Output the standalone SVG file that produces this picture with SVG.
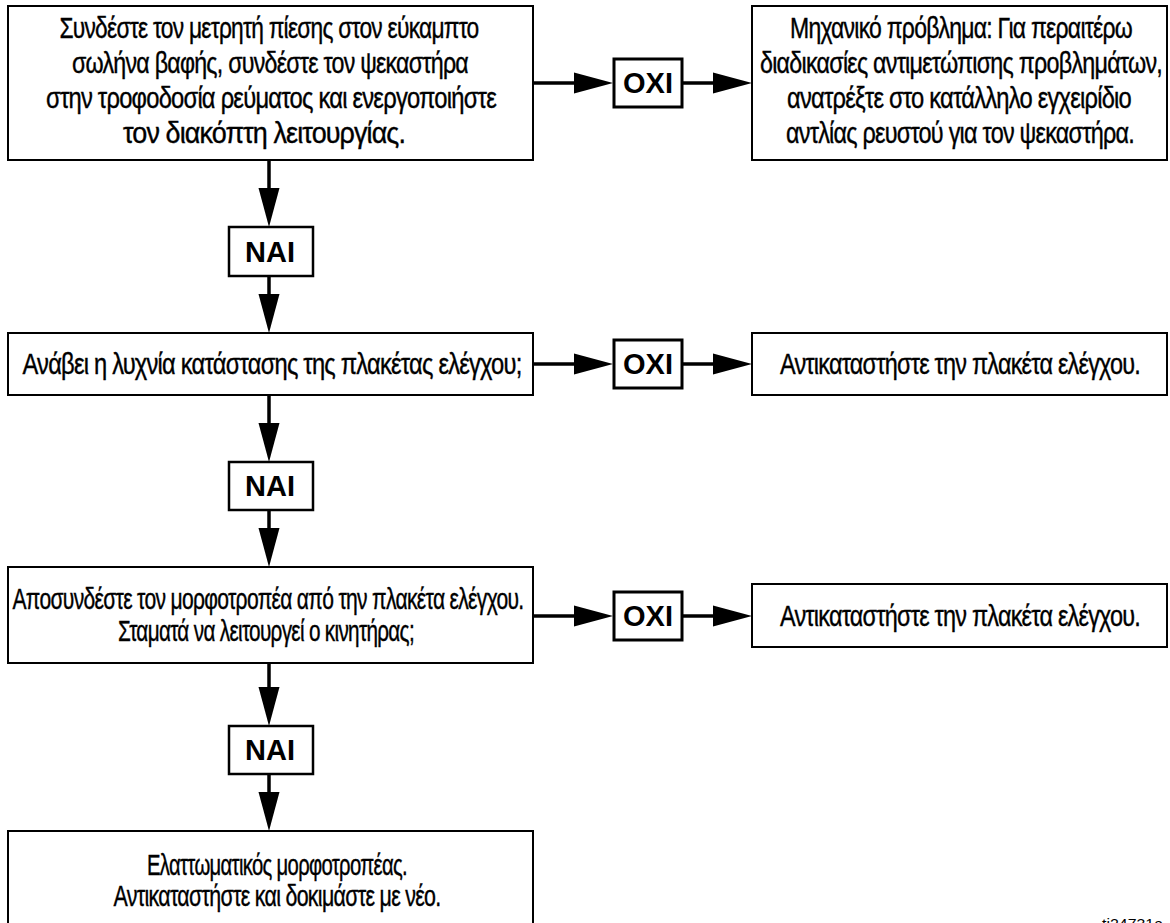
<svg xmlns="http://www.w3.org/2000/svg" width="1170" height="923" viewBox="0 0 1170 923">
<style>
  .box { fill: #fff; stroke: #000; stroke-width: 2; }
  .nai { fill: #fff; stroke: #000; stroke-width: 2.5; }
  .oxi { fill: #fff; stroke: #000; stroke-width: 3; }
  .t { font-family: "Liberation Sans Narrow", "Liberation Sans", "DejaVu Sans Condensed", sans-serif; font-size: 30px; letter-spacing: -1px; fill: #000; stroke: #000; stroke-width: 0.4; text-anchor: middle; }
  .b { font-family: "Liberation Sans", "DejaVu Sans", sans-serif; font-size: 29px; font-weight: bold; fill: #000; text-anchor: middle; }
  .con line { stroke: #000; stroke-width: 3.5; }
  .code { font-family: "Liberation Sans", sans-serif; font-size: 15px; fill: #000; }
</style>
<defs>
  <marker id="ah" markerUnits="userSpaceOnUse" markerWidth="40" markerHeight="22" refX="0" refY="11" orient="auto" overflow="visible">
    <path d="M0,0.5 L39,11 L0,21.5 z" fill="#000"/>
  </marker>
</defs>
<rect width="1170" height="923" fill="#fff"/>

<g class="con" id="connectors">
  <line x1="533" y1="83" x2="574" y2="83" marker-end="url(#ah)"/>
  <line x1="682" y1="83" x2="713" y2="83" marker-end="url(#ah)"/>
  <line x1="533" y1="364" x2="574" y2="364" marker-end="url(#ah)"/>
  <line x1="682" y1="364" x2="713" y2="364" marker-end="url(#ah)"/>
  <line x1="533" y1="616" x2="574" y2="616" marker-end="url(#ah)"/>
  <line x1="682" y1="616" x2="713" y2="616" marker-end="url(#ah)"/>
  <line x1="269" y1="160" x2="269" y2="188" marker-end="url(#ah)"/>
  <line x1="269" y1="276" x2="269" y2="294" marker-end="url(#ah)"/>
  <line x1="269" y1="395" x2="269" y2="423" marker-end="url(#ah)"/>
  <line x1="269" y1="510" x2="269" y2="528" marker-end="url(#ah)"/>
  <line x1="269" y1="663" x2="269" y2="687" marker-end="url(#ah)"/>
  <line x1="269" y1="774" x2="269" y2="792" marker-end="url(#ah)"/>
</g>

<g id="step1">
  <rect class="box" x="8" y="6" width="525" height="154"/>
  <text class="t" x="269" y="38" textLength="419" lengthAdjust="spacingAndGlyphs">Συνδέστε τον μετρητή πίεσης στον εύκαμπτο</text>
  <text class="t" x="270" y="73" textLength="396" lengthAdjust="spacingAndGlyphs">σωλήνα βαφής, συνδέστε τον ψεκαστήρα</text>
  <text class="t" x="271" y="108" textLength="450" lengthAdjust="spacingAndGlyphs">στην τροφοδοσία ρεύματος και ενεργοποιήστε</text>
  <text class="t" x="264" y="143" textLength="282" lengthAdjust="spacingAndGlyphs">τον διακόπτη λειτουργίας.</text>
</g>

<g id="no1">
  <rect class="oxi" x="614" y="59" width="68" height="48"/>
  <text class="b" x="648" y="93">OXI</text>
</g>

<g id="result1">
  <rect class="box" x="752" y="6" width="415" height="154"/>
  <text class="t" x="961" y="38" textLength="342" lengthAdjust="spacingAndGlyphs">Μηχανικό πρόβλημα: Για περαιτέρω</text>
  <text class="t" x="961" y="73" textLength="402" lengthAdjust="spacingAndGlyphs">διαδικασίες αντιμετώπισης προβλημάτων,</text>
  <text class="t" x="959" y="108" textLength="344" lengthAdjust="spacingAndGlyphs">ανατρέξτε στο κατάλληλο εγχειρίδιο</text>
  <text class="t" x="960" y="143" textLength="348" lengthAdjust="spacingAndGlyphs">αντλίας ρευστού για τον ψεκαστήρα.</text>
</g>

<g id="yes1">
  <rect class="nai" x="229" y="227" width="84" height="49"/>
  <text class="b" x="270" y="262">NAI</text>
</g>

<g id="step2">
  <rect class="box" x="8" y="333" width="525" height="62"/>
  <text class="t" x="272" y="374" textLength="499" lengthAdjust="spacingAndGlyphs">Ανάβει η λυχνία κατάστασης της πλακέτας ελέγχου;</text>
</g>

<g id="no2">
  <rect class="oxi" x="614" y="340" width="68" height="48"/>
  <text class="b" x="648" y="374">OXI</text>
</g>

<g id="result2">
  <rect class="box" x="752" y="333" width="415" height="62"/>
  <text class="t" x="960" y="374" textLength="360" lengthAdjust="spacingAndGlyphs">Αντικαταστήστε την πλακέτα ελέγχου.</text>
</g>

<g id="yes2">
  <rect class="nai" x="229" y="462" width="84" height="48"/>
  <text class="b" x="270" y="496">NAI</text>
</g>

<g id="step3">
  <rect class="box" x="8" y="567" width="525" height="96"/>
  <text class="t" x="268" y="609" textLength="511" lengthAdjust="spacingAndGlyphs">Αποσυνδέστε τον μορφοτροπέα από την πλακέτα ελέγχου.</text>
  <text class="t" x="266" y="641" textLength="296" lengthAdjust="spacingAndGlyphs">Σταματά να λειτουργεί ο κινητήρας;</text>
</g>

<g id="no3">
  <rect class="oxi" x="614" y="592" width="68" height="48"/>
  <text class="b" x="648" y="626">OXI</text>
</g>

<g id="result3">
  <rect class="box" x="752" y="584" width="415" height="63"/>
  <text class="t" x="960" y="626" textLength="360" lengthAdjust="spacingAndGlyphs">Αντικαταστήστε την πλακέτα ελέγχου.</text>
</g>

<g id="yes3">
  <rect class="nai" x="229" y="726" width="84" height="48"/>
  <text class="b" x="270" y="760">NAI</text>
</g>

<g id="step4">
  <rect class="box" x="8" y="831" width="525" height="110"/>
  <text class="t" x="277" y="875" textLength="260" lengthAdjust="spacingAndGlyphs">Ελαττωματικός μορφοτροπέας.</text>
  <text class="t" x="277" y="906" textLength="327" lengthAdjust="spacingAndGlyphs">Αντικαταστήστε και δοκιμάστε με νέο.</text>
</g>

<text class="code" x="1102" y="929" textLength="61" lengthAdjust="spacingAndGlyphs">ti24731a</text>
</svg>
